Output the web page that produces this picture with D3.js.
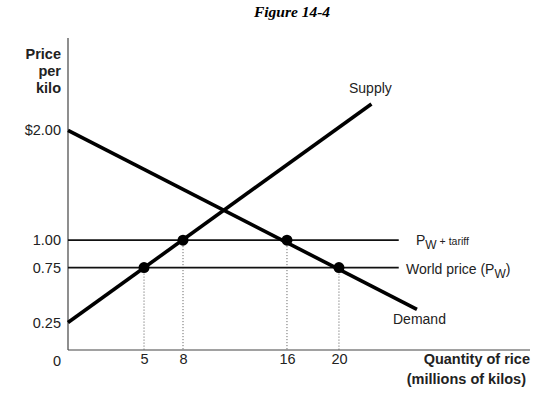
<!DOCTYPE html>
<html>
<head>
<meta charset="utf-8">
<script src="https://cdn.jsdelivr.net/npm/d3@7"></script>
<style>
	body { margin: 0; background: #fff; }
	svg { display: block; font-family: "Liberation Sans", Arial, sans-serif; }
	.axis path { stroke: #444; stroke-width: 1.2px; }
	.axis text { font-size: 14.5px; fill: #222; font-family: "Liberation Sans", Arial, sans-serif; }
</style>
</head>
<body>
<div id="chart"></div>
<script>
// values
const priceTicks = [0.25, 0.75, 1.00, 2.00];
const priceLabels = ['0.25', '0.75', '1.00', '$2.00'];
const quantityTicks = [5, 8, 16, 20];
const supplyLine = [[-0.85, 0.25], [22.5, 2.24]];
const demandLine = [[-0.85, 2.0], [26.0, 0.37]];
const priceLines = [
	{ name: 'tariff', price: 1.00, end: 24.6 },
	{ name: 'world', price: 0.75, end: 24.6 }
];
const points = [
	{ q: 5, p: 0.75 },
	{ q: 8, p: 1.00 },
	{ q: 16, p: 1.00 },
	{ q: 20, p: 0.75 }
];

var width = 536, height = 394;

var svg = d3.select('#chart')
	.append('svg')
		.attr('width', width)
		.attr('height', height);

var x = d3.scaleLinear()
	.domain([-0.85, 34.7])
	.range([68, 530]);
var y = d3.scaleLinear()
	.domain([0, 2.84])
	.range([350, 38]);

// title
svg.append('text')
	.attr('x', 292)
	.attr('y', 17)
	.attr('text-anchor', 'middle')
	.style('font-family', '"Liberation Serif", "DejaVu Serif", serif')
	.style('font-style', 'italic')
	.style('font-weight', 'bold')
	.style('font-size', '15.5px')
	.text('Figure 14-4');

// axes
svg.append('g')
	.attr('class', 'axis')
	.attr('transform', 'translate(0,' + y(0) + ')')
	.call(d3.axisBottom(x).tickValues(quantityTicks).tickSize(0).tickPadding(4).tickFormat(d3.format('d')))
	.call(g => g.select('.domain').attr('d', 'M' + x.range()[0] + ',0H' + x.range()[1]));

svg.append('g')
	.attr('class', 'axis')
	.attr('transform', 'translate(' + x.range()[0] + ',0)')
	.call(d3.axisLeft(y).tickValues(priceTicks).tickSize(0).tickPadding(7)
		.tickFormat((d, i) => priceLabels[i]))
	.call(g => g.select('.domain').attr('d', 'M0,' + y.range()[1] + 'V' + y.range()[0]));

// origin label
svg.append('text')
	.attr('x', 61)
	.attr('y', 366)
	.attr('text-anchor', 'end')
	.style('font-size', '14.5px')
	.style('fill', '#222')
	.text('0');

// axis titles
var yTitle = svg.append('text')
	.attr('text-anchor', 'end')
	.style('font-size', '14.5px')
	.style('font-weight', 'bold')
	.style('fill', '#222');
['Price', 'per', 'kilo'].forEach((t, i) => {
	yTitle.append('tspan').attr('x', 61).attr('y', 59 + i * 17).text(t);
});

var xTitle = svg.append('text')
	.attr('text-anchor', 'end')
	.style('font-size', '14.5px')
	.style('font-weight', 'bold')
	.style('fill', '#222');
xTitle.append('tspan').attr('x', 530).attr('y', 364).text('Quantity of rice');
xTitle.append('tspan').attr('x', 526).attr('y', 384).text('(millions of kilos)');

// dotted drop lines
svg.selectAll('line.drop')
	.data(points)
	.enter()
	.append('line')
		.attr('class', 'drop')
		.attr('x1', d => x(d.q))
		.attr('x2', d => x(d.q))
		.attr('y1', d => y(d.p))
		.attr('y2', y(0))
		.attr('stroke', '#555')
		.attr('stroke-width', 1)
		.attr('stroke-dasharray', '1,2');

// horizontal price lines
svg.selectAll('line.price')
	.data(priceLines)
	.enter()
	.append('line')
		.attr('class', 'price')
		.attr('x1', x.range()[0])
		.attr('x2', d => x(d.end))
		.attr('y1', d => y(d.price))
		.attr('y2', d => y(d.price))
		.attr('stroke', '#111')
		.attr('stroke-width', 1.6);

// supply and demand
var line = d3.line().x(d => x(d[0])).y(d => y(d[1]));
[supplyLine, demandLine].forEach(l => {
	svg.append('path')
		.attr('d', line(l))
		.attr('fill', 'none')
		.attr('stroke', '#000')
		.attr('stroke-width', 3.6);
});

svg.selectAll('circle')
	.data(points)
	.enter()
	.append('circle')
		.attr('cx', d => x(d.q))
		.attr('cy', d => y(d.p))
		.attr('r', 5.5)
		.attr('fill', '#000');

// curve labels
function label(tx, ty, size) {
	return svg.append('text')
		.attr('x', tx)
		.attr('y', ty)
		.style('font-size', (size || 14) + 'px')
		.style('fill', '#222');
}
label(349, 93).text('Supply');
label(393, 324).text('Demand');

var tariff = label(416, 245);
tariff.append('tspan').text('P');
tariff.append('tspan').attr('dy', 4).style('font-size', '12px').text('W');
tariff.append('tspan').attr('dy', -4).style('font-size', '10.5px').text(' + tariff');

var world = label(406, 274);
world.append('tspan').text('World price (P');
world.append('tspan').attr('dy', 4).style('font-size', '12px').text('W');
world.append('tspan').attr('dy', -4).text(')');
</script>
</body>
</html>
